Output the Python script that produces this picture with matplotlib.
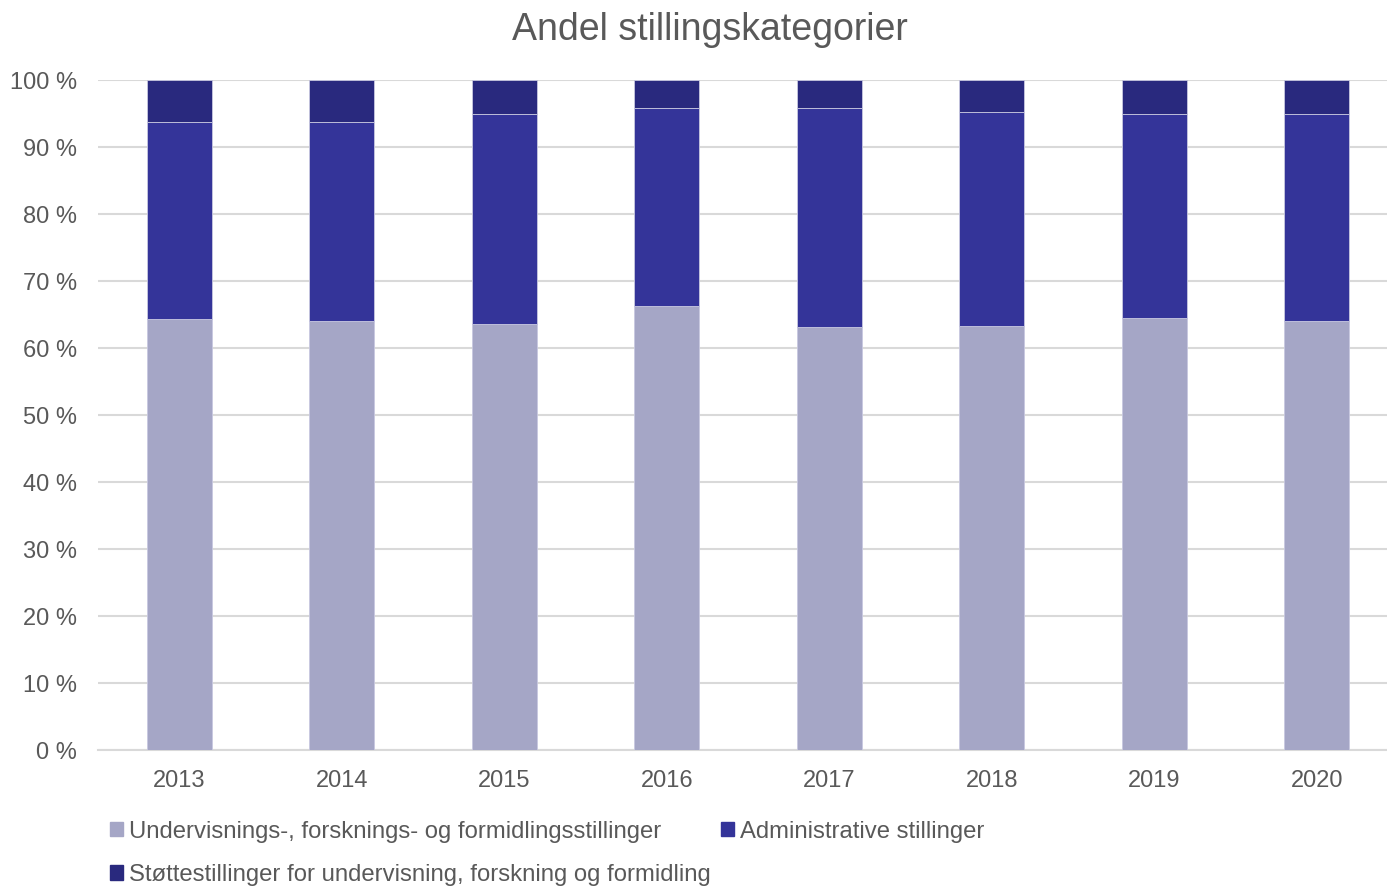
import matplotlib
matplotlib.use("Agg")
import matplotlib.pyplot as plt
from matplotlib.patches import Patch
import numpy as np

plt.rcParams['font.family'] = ['Liberation Sans', 'DejaVu Sans']

# Data (andel i prosent)
years = ["2013", "2014", "2015", "2016", "2017", "2018", "2019", "2020"]
undervisning = [64.3, 64.1, 63.6, 66.2, 63.1, 63.3, 64.5, 64.1]
administrative = [29.4, 29.7, 31.3, 29.6, 32.7, 31.9, 30.5, 30.8]
stotte = [6.3, 6.2, 5.1, 4.2, 4.2, 4.8, 5.0, 5.1]

labels = ["Undervisnings-, forsknings- og formidlingsstillinger",
          "Administrative stillinger",
          "Støttestillinger for undervisning, forskning og formidling"]
colors = ["#A5A6C6", "#343499", "#29297E"]
txt = "#595959"

fig = plt.figure(figsize=(13.87, 8.88), dpi=100)
ax = fig.add_axes([0.0706, 0.1554, 0.9373, 0.7545])

x = np.arange(len(years))
bottom = np.zeros(len(years))
for vals, c in zip([undervisning, administrative, stotte], colors):
    ax.bar(x, vals, 0.4, bottom=bottom, color=c, edgecolor="#C8C8E0", linewidth=0.6, zorder=3)
    bottom += np.array(vals)

ax.set_xlim(-0.5, len(years) - 0.5)
ax.set_ylim(0, 100)
ax.set_yticks(range(0, 101, 10))
ax.set_yticklabels([f"{v} %" for v in range(0, 101, 10)])
ax.set_xticks(x)
ax.set_xticklabels(years)
ax.tick_params(axis="both", length=0, labelsize=17, labelcolor=txt)
ax.tick_params(axis="y", pad=15)
ax.tick_params(axis="x", pad=14.5)
ax.grid(axis="y", color="#D9D9D9", linewidth=1.5, zorder=0)
for s in ["top", "right", "left"]:
    ax.spines[s].set_visible(False)
ax.spines["bottom"].set_color("#D9D9D9")
ax.spines["bottom"].set_linewidth(1.5)

fig.text(0.512, 0.966, "Andel stillingskategorier", ha="center", va="center",
         fontsize=27, color=txt)

handles = [Patch(color=c) for c in colors]
order = [0, 2, 1]
fig.legend([handles[i] for i in order], [labels[i] for i in order], ncol=2,
           loc="upper left", bbox_to_anchor=(0.079, 0.076), frameon=False,
           fontsize=17.2, labelcolor=txt, handlelength=0.55, handleheight=0.55,
           handletextpad=0.25, columnspacing=0.45, labelspacing=0.9,
           borderaxespad=0, borderpad=0)

fig.savefig("out.png", dpi=100)
